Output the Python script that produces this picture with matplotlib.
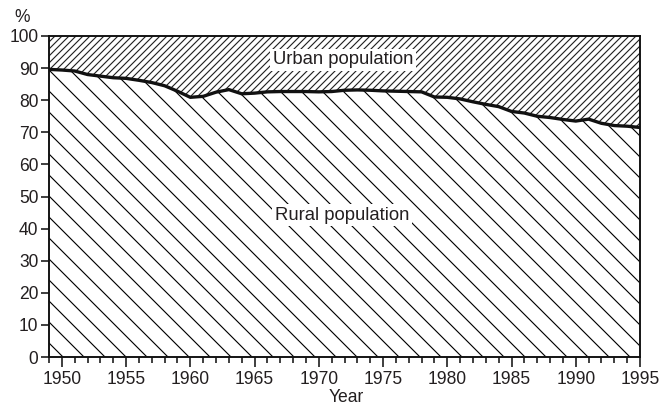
import matplotlib.pyplot as plt
import numpy as np

# share of rural population (%), 1949-1995
years = np.arange(1949, 1996)
rural = [89.6, 89.4, 89.1, 88.0, 87.5, 87.0, 86.8, 86.2, 85.5, 84.5,
         82.8, 80.9, 81.2, 82.5, 83.3, 82.0, 82.2, 82.6, 82.7, 82.7,
         82.7, 82.6, 82.7, 83.1, 83.2, 83.1, 82.9, 82.8, 82.7, 82.6,
         81.0, 80.9, 80.4, 79.5, 78.7, 78.0, 76.5, 76.0, 75.0, 74.6,
         74.0, 73.5, 74.1, 72.8, 72.1, 71.9, 71.5]
major_years = [1950, 1955, 1960, 1965, 1970, 1975, 1980, 1985, 1990, 1995]
y_ticks = [0, 10, 20, 30, 40, 50, 60, 70, 80, 90, 100]

DPI = 126
plt.rcParams['font.family'] = ['Liberation Sans', 'DejaVu Sans']
plt.rcParams['font.size'] = 10
plt.rcParams['hatch.linewidth'] = 0.65
plt.rcParams['hatch.color'] = 'black'

fig = plt.figure(figsize=(661 / DPI, 404 / DPI), dpi=DPI)
ax = fig.add_axes([49 / 661, 1 - 357 / 404, (640 - 49) / 661, (357 - 36) / 404])

text_col = '#231f20'

ax.fill_between(years, 0, rural, facecolor='white', edgecolor='black',
                hatch='\\\\', linewidth=0)
ax.fill_between(years, rural, 100, facecolor='white', edgecolor='#222222',
                hatch='//////', linewidth=0)
ax.plot(years, rural, color='#111111', lw=1.9, solid_capstyle='round')

ax.set_xlim(1949, 1995)
ax.set_ylim(0, 100)
ax.set_xticks(major_years)
ax.set_xticks(years, minor=True)
ax.set_yticks(y_ticks)

for s in ax.spines.values():
    s.set_linewidth(1.1)
    s.set_color('#111111')

ax.tick_params(axis='x', which='major', length=5.8, width=0.9, color='#111111',
               labelcolor=text_col, pad=2)
ax.tick_params(axis='x', which='minor', length=3.4, width=0.9, color='#111111')
ax.tick_params(axis='y', which='major', length=4.6, width=0.9, color='#111111',
               labelcolor=text_col, pad=1.5)

box = dict(facecolor='white', edgecolor='none', pad=1.5)
ax.text(1971.9, 92.6, 'Urban population', ha='center', va='center',
        color=text_col, fontsize=10.6, bbox=box)
ax.text(1971.8, 44.2, 'Rural population', ha='center', va='center',
        color=text_col, fontsize=10.6, bbox=box)

fig.text(22 / 661, 1 - 18 / 404, '%', ha='center', va='center', color=text_col)
fig.text(346 / 661, 1 - 397 / 404, 'Year', ha='center', va='center', color=text_col)

fig.savefig('out.png', dpi=DPI)
